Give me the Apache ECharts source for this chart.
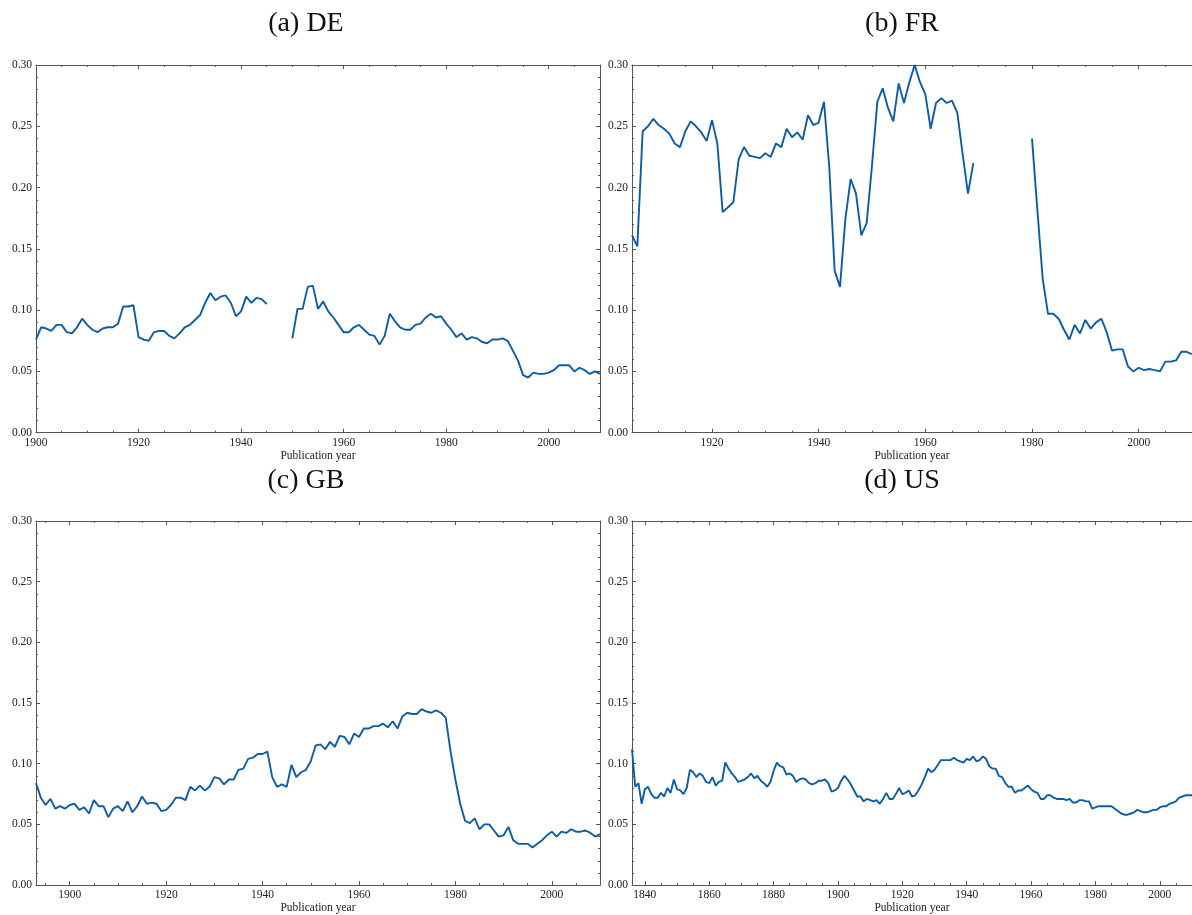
<!DOCTYPE html>
<html><head><meta charset="utf-8">
<script src="https://cdn.jsdelivr.net/npm/echarts@6/dist/echarts.min.js"></script>
<style>html,body{margin:0;padding:0;background:#fff}#c{width:1192px;height:915px}</style>
</head><body><div id="c"></div>
<script>
// ---- data (one value per year, null = no data) ----
const deStart = 1900;
const deValues = [0.076,0.086,0.085,0.083,0.088,0.088,0.082,0.081,0.086,0.093,
0.088,0.084,0.082,0.085,0.086,0.086,0.089,0.103,0.103,0.104,
0.078,0.076,0.075,0.082,0.083,0.083,0.079,0.077,0.081,0.086,
0.088,0.092,0.096,0.106,0.114,0.108,0.111,0.112,0.106,0.095,
0.099,0.111,0.106,0.110,0.109,0.105,null,null,null,null,
0.077,0.101,0.101,0.119,0.120,0.101,0.107,0.099,0.094,0.088,
0.082,0.082,0.086,0.088,0.084,0.080,0.079,0.072,0.079,0.097,
0.091,0.086,0.084,0.084,0.088,0.089,0.094,0.097,0.094,0.095,
0.089,0.084,0.078,0.081,0.076,0.078,0.077,0.074,0.073,0.076,
0.076,0.077,0.075,0.067,0.059,0.047,0.045,0.049,0.048,0.048,
0.049,0.051,0.055,0.055,0.055,0.050,0.053,0.051,0.048,0.050,
0.048];

const frStart = 1905;
const frValues = [0.161,0.152,0.246,0.250,0.256,
0.251,0.248,0.244,0.236,0.233,0.246,0.254,0.250,0.245,0.238,
0.255,0.236,0.180,0.184,0.188,0.223,0.233,0.226,0.225,0.224,
0.228,0.225,0.236,0.233,0.248,0.241,0.245,0.239,0.259,0.251,
0.253,0.270,0.216,0.132,0.119,0.174,0.207,0.195,0.161,0.171,
0.218,0.270,0.281,0.265,0.254,0.285,0.269,0.286,0.300,0.286,
0.276,0.248,0.269,0.273,0.269,0.271,0.261,0.227,0.195,0.220,
null,null,null,null,null,null,null,null,null,null,
0.240,0.182,0.126,0.097,0.097,0.093,0.084,0.076,0.088,0.081,
0.092,0.085,0.090,0.093,0.082,0.067,0.068,0.068,0.054,0.050,
0.053,0.051,0.052,0.051,0.050,0.058,0.058,0.059,0.066,0.066,
0.064];

const gbStart = 1893;
const gbValues = [0.084,0.072,0.066,0.071,0.063,0.065,0.063,
0.066,0.067,0.062,0.064,0.059,0.070,0.065,0.065,0.056,0.063,
0.065,0.061,0.069,0.060,0.065,0.073,0.067,0.068,0.067,0.061,
0.062,0.066,0.072,0.072,0.070,0.081,0.078,0.082,0.078,0.081,
0.089,0.088,0.083,0.087,0.087,0.095,0.096,0.104,0.105,0.108,
0.108,0.110,0.089,0.081,0.083,0.081,0.099,0.089,0.093,0.095,
0.102,0.115,0.116,0.112,0.118,0.114,0.123,0.122,0.116,0.125,
0.122,0.129,0.129,0.131,0.131,0.133,0.130,0.135,0.129,0.139,
0.142,0.141,0.141,0.145,0.143,0.142,0.144,0.142,0.138,0.110,
0.087,0.067,0.053,0.051,0.055,0.046,0.050,0.050,0.045,0.040,
0.041,0.048,0.037,0.034,0.034,0.034,0.031,0.034,0.037,0.041,
0.044,0.040,0.044,0.043,0.046,0.044,0.044,0.045,0.043,0.040,
0.042];

const usStart = 1836;
const usValues = [0.112,0.081,0.084,0.067,
0.079,0.081,0.075,0.072,0.072,0.076,0.073,0.080,0.076,0.087,
0.079,0.078,0.075,0.080,0.095,0.093,0.089,0.092,0.090,0.085,
0.084,0.089,0.082,0.085,0.086,0.101,0.096,0.092,0.089,0.085,
0.086,0.087,0.089,0.092,0.088,0.090,0.086,0.084,0.081,0.085,
0.094,0.101,0.098,0.097,0.091,0.092,0.090,0.085,0.087,0.088,
0.087,0.084,0.083,0.084,0.086,0.086,0.087,0.084,0.077,0.078,
0.080,0.086,0.090,0.087,0.083,0.078,0.073,0.073,0.069,0.071,
0.070,0.069,0.070,0.067,0.071,0.076,0.071,0.071,0.075,0.080,
0.075,0.076,0.078,0.073,0.074,0.078,0.083,0.089,0.096,0.093,
0.095,0.099,0.103,0.103,0.103,0.103,0.105,0.103,0.102,0.101,
0.104,0.103,0.106,0.102,0.103,0.106,0.104,0.098,0.096,0.096,
0.090,0.089,0.084,0.081,0.081,0.076,0.078,0.078,0.080,0.082,
0.079,0.077,0.076,0.071,0.071,0.074,0.074,0.072,0.071,0.071,
0.071,0.070,0.071,0.068,0.068,0.070,0.070,0.069,0.069,0.063,
0.064,0.065,0.065,0.065,0.065,0.065,0.063,0.061,0.059,0.058,
0.058,0.059,0.060,0.062,0.061,0.060,0.060,0.061,0.062,0.062,
0.064,0.065,0.065,0.067,0.068,0.069,0.072,0.073,0.074,0.074,
0.074];

const yTicks = [0, 0.05, 0.10, 0.15, 0.20, 0.25, 0.30];
const xLabelStep = 20;
const xMinorStep = 5;
const xTitle = 'Publication year';

// ---- layout ----
const F = '"Liberation Serif", "DejaVu Serif", serif';
const LINE = '#0C5DA5';
const SPINE = '#555';
const W = 1192;
const panels = [
  {title:'(a) DE', start:deStart, vals:deValues, min:1900, max:2010, left:36,  top:65,  h:367.7, tx:306, ty:24},
  {title:'(b) FR', start:frStart, vals:frValues, min:1905, max:2010, left:632, top:65,  h:367.7, tx:902, ty:24},
  {title:'(c) GB', start:gbStart, vals:gbValues, min:1893, max:2010, left:36,  top:521, h:367.3, tx:306, ty:481},
  {title:'(d) US', start:usStart, vals:usValues, min:1836, max:2010, left:632, top:521, h:367.3, tx:902, ty:481}
];

function stepsIn(min, max, step){
  const out=[]; for(let v=Math.ceil(min/step)*step; v<=max; v+=step) out.push(v); return out;
}

const grid=[], xAxis=[], yAxis=[], series=[], graphic=[];
panels.forEach((p,i)=>{
  const pw = 564;
  grid.push({left:p.left, top:p.top, width:pw, height:p.h});
  const rightVisible = p.left + pw <= W;
  const majors = stepsIn(p.min, p.max, xLabelStep);
  const minors = stepsIn(p.min, p.max, xMinorStep).filter(v=>majors.indexOf(v)<0);
  const tickStyle = {color:SPINE, width:1};
  const base = {type:'value', gridIndex:i, min:p.min, max:p.max, splitLine:{show:false}};
  xAxis.push(Object.assign({}, base, {position:'bottom',
    axisLine:{show:true, lineStyle:{color:SPINE, width:1}},
    axisTick:{show:true, inside:true, length:4, customValues:majors, lineStyle:tickStyle},
    axisLabel:{show:true, customValues:majors, formatter:v=>String(v), color:'#222', fontFamily:F, fontSize:11.5, margin:4},
    name:xTitle, nameLocation:'middle', nameGap:16,
    nameTextStyle:{color:'#222', fontFamily:F, fontSize:11.5, verticalAlign:'top'}}));
  xAxis.push(Object.assign({}, base, {position:'bottom', axisLine:{show:false},
    axisTick:{show:true, inside:true, length:2, customValues:minors, lineStyle:tickStyle},
    axisLabel:{show:false}}));
  xAxis.push(Object.assign({}, base, {position:'top',
    axisLine:{show:true, lineStyle:{color:SPINE, width:1}},
    axisTick:{show:true, inside:true, length:4, customValues:majors, lineStyle:tickStyle},
    axisLabel:{show:false}}));
  xAxis.push(Object.assign({}, base, {position:'top', axisLine:{show:false},
    axisTick:{show:true, inside:true, length:2, customValues:minors, lineStyle:tickStyle},
    axisLabel:{show:false}}));
  const ybase = {type:'value', gridIndex:i, min:yTicks[0], max:yTicks[yTicks.length-1], interval:yTicks[1]-yTicks[0],
    splitLine:{show:false}, minorSplitLine:{show:false},
    axisLine:{show:true, lineStyle:{color:SPINE, width:1}},
    axisTick:{show:true, inside:true, length:4, lineStyle:tickStyle},
    minorTick:{show:true, splitNumber:5, length:2, lineStyle:tickStyle}};
  yAxis.push(Object.assign({}, ybase, {position:'left',
    axisLabel:{show:true, formatter:v=>v.toFixed(2), color:'#222', fontFamily:F, fontSize:11.5, margin:4}}));
  yAxis.push(Object.assign({}, ybase, {position:'right', axisLabel:{show:false},
    axisTick:{show:rightVisible, inside:true, length:4, lineStyle:tickStyle},
    minorTick:{show:rightVisible, splitNumber:5, length:2, lineStyle:tickStyle}}));
  series.push({type:'line', xAxisIndex:i*4, yAxisIndex:i*2, showSymbol:false, symbol:'none',
    connectNulls:false, animation:false, clip:true,
    lineStyle:{color:LINE, width:1.9}, itemStyle:{color:LINE},
    data:p.vals.map((v,k)=>[p.start+k, v===null?'-':v])});
  graphic.push({type:'text', x:p.tx, y:p.ty, style:{text:p.title, font:'28px "Liberation Serif", serif', fill:'#111', align:'center', verticalAlign:'middle'}});
});

const chart = echarts.init(document.getElementById('c'), null, {renderer:'canvas'});
chart.setOption({animation:false, backgroundColor:'#fff', grid, xAxis, yAxis, series, graphic});
</script></body></html>
